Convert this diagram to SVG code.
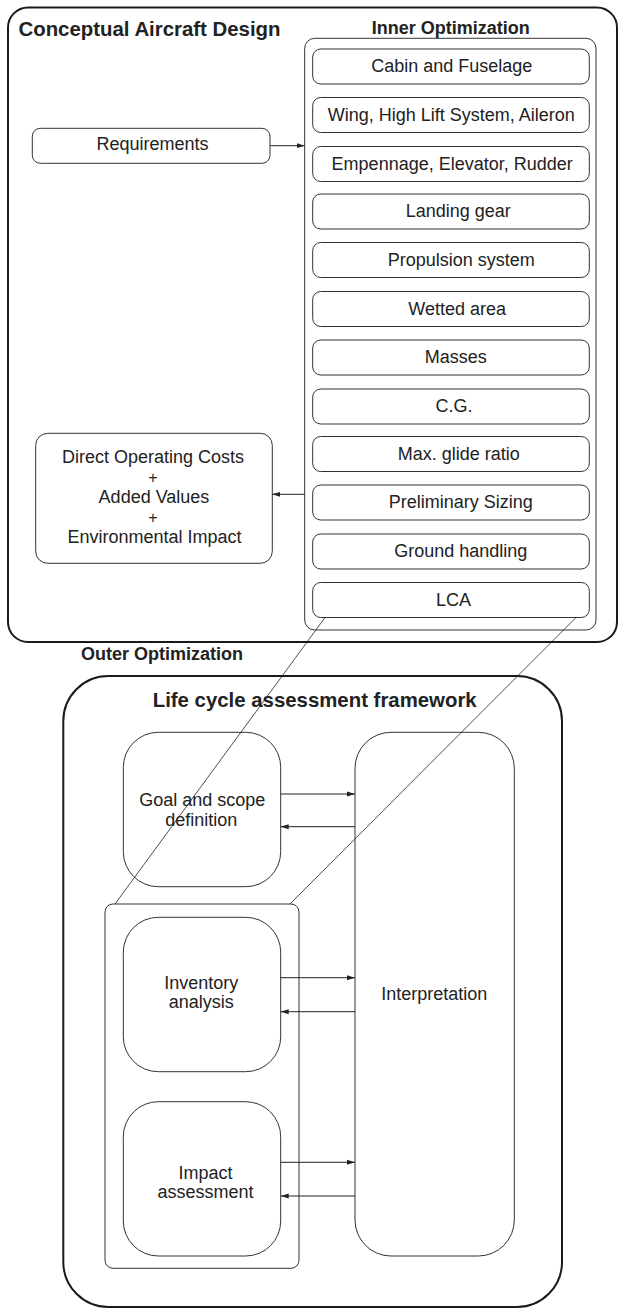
<svg xmlns="http://www.w3.org/2000/svg" width="619" height="1309" viewBox="0 0 619 1309">
<style>
.bg{fill:#fff}
.outer{fill:none;stroke:#1a1a1a;stroke-width:2}
.box{fill:#fff;stroke:#333;stroke-width:1}
.t{font-family:"Liberation Sans",Arial,sans-serif;font-size:18px;fill:#222;text-anchor:middle}
.p{font-size:16px}
.h{font-family:"Liberation Sans",Arial,sans-serif;font-size:18px;font-weight:bold;fill:#222}
.big{font-size:20.4px}
.c{fill:none;stroke:#222;stroke-width:1}
.thin{fill:none;stroke:#222;stroke-width:0.8}
</style>
<defs>
<marker id="ah" markerWidth="8" markerHeight="6" refX="8" refY="3" orient="auto" markerUnits="userSpaceOnUse">
<path d="M0,0.5 L8,3 L0,5.5 Z" fill="#222"/>
</marker>
</defs>
<rect class="bg" x="0" y="0" width="619" height="1309"/>

<g id="conceptual-aircraft-design">
<rect class="outer" x="8" y="7.5" width="609" height="634.5" rx="20"/>
<text class="h big" x="18.5" y="36" textLength="262" lengthAdjust="spacingAndGlyphs">Conceptual Aircraft Design</text>
</g>

<g id="inner-optimization">
<rect class="box" x="304.7" y="38.3" width="291.3" height="591.7" rx="10"/>
<text class="h" x="450.8" y="34.3" text-anchor="middle">Inner Optimization</text>
</g>

<g id="requirements">
<rect class="box" x="32.3" y="128.3" width="237.7" height="35" rx="8"/>
<text class="t" x="152.5" y="150">Requirements</text>
</g>

<g id="doc">
<rect class="box" x="35.7" y="433.3" width="236.6" height="130" rx="12"/>
<text class="t" x="153" y="463.3">Direct Operating Costs</text>
<text class="t p" x="153" y="482.5">+</text>
<text class="t" x="154" y="502.7">Added Values</text>
<text class="t p" x="153" y="522.8">+</text>
<text class="t" x="154.5" y="543.3">Environmental Impact</text>
</g>

<g id="cabin"><rect class="box" x="312.7" y="49" width="276.6" height="35" rx="8"/><text class="t" x="451.8" y="72">Cabin and Fuselage</text></g>
<g id="wing"><rect class="box" x="312.7" y="97.5" width="276.6" height="35" rx="8"/><text class="t" x="451.3" y="120.5">Wing, High Lift System, Aileron</text></g>
<g id="empennage"><rect class="box" x="312.7" y="146.5" width="276.6" height="35" rx="8"/><text class="t" x="452.2" y="169.5">Empennage, Elevator, Rudder</text></g>
<g id="landing-gear"><rect class="box" x="312.7" y="194" width="276.6" height="35" rx="8"/><text class="t" x="458.3" y="216.5">Landing gear</text></g>
<g id="propulsion"><rect class="box" x="312.7" y="242.5" width="276.6" height="35" rx="8"/><text class="t" x="461.3" y="265.5">Propulsion system</text></g>
<g id="wetted"><rect class="box" x="312.7" y="291.5" width="276.6" height="35" rx="8"/><text class="t" x="457.2" y="314.5">Wetted area</text></g>
<g id="masses"><rect class="box" x="312.7" y="340" width="276.6" height="35" rx="8"/><text class="t" x="455.8" y="363">Masses</text></g>
<g id="cg"><rect class="box" x="312.7" y="389" width="276.6" height="35" rx="8"/><text class="t" x="454" y="412">C.G.</text></g>
<g id="glide"><rect class="box" x="312.7" y="436.5" width="276.6" height="35" rx="8"/><text class="t" x="458.7" y="459.5">Max. glide ratio</text></g>
<g id="prelim"><rect class="box" x="312.7" y="485" width="276.6" height="35" rx="8"/><text class="t" x="460.8" y="508">Preliminary Sizing</text></g>
<g id="ground"><rect class="box" x="312.7" y="534" width="276.6" height="35" rx="8"/><text class="t" x="460.7" y="557">Ground handling</text></g>
<g id="lca"><rect class="box" x="312.7" y="582.5" width="276.6" height="35" rx="8"/><text class="t" x="453.5" y="606">LCA</text></g>

<g id="outer-optimization">
<text class="h" x="81" y="659.5">Outer Optimization</text>
</g>

<g id="lca-framework">
<rect class="outer" x="63.3" y="676" width="498.7" height="631" rx="45"/>
<text class="h big" x="314.7" y="706.7" text-anchor="middle" textLength="324" lengthAdjust="spacingAndGlyphs">Life cycle assessment framework</text>
</g>

<g id="goal">
<rect class="box" x="123.3" y="732.3" width="157.4" height="154.4" rx="35"/>
<text class="t" x="202.3" y="806">Goal and scope</text>
<text class="t" x="201.3" y="825.7">definition</text>
</g>

<g id="interpretation">
<rect class="box" x="355" y="732.3" width="159.3" height="523.7" rx="36"/>
<text class="t" x="434.2" y="1000">Interpretation</text>
</g>

<g id="inventory-impact-group">
<rect class="box" x="105" y="904" width="194" height="364.3" rx="8" fill="none"/>
</g>

<g id="inventory">
<rect class="box" x="123.3" y="917.3" width="157.4" height="154.4" rx="35"/>
<text class="t" x="201.2" y="989.3">Inventory</text>
<text class="t" x="201.2" y="1007.7">analysis</text>
</g>

<g id="impact">
<rect class="box" x="123.3" y="1101.7" width="157.4" height="154.3" rx="35"/>
<text class="t" x="205.5" y="1179.3">Impact</text>
<text class="t" x="205.5" y="1197.7">assessment</text>
</g>

<g id="connectors">
<line class="c" x1="270" y1="145.7" x2="304.7" y2="145.7" marker-end="url(#ah)"/>
<line class="c" x1="304.7" y1="494.3" x2="272.3" y2="494.3" marker-end="url(#ah)"/>
<line class="c" x1="280.7" y1="794" x2="355" y2="794" marker-end="url(#ah)"/>
<line class="c" x1="355" y1="826.7" x2="280.7" y2="826.7" marker-end="url(#ah)"/>
<line class="c" x1="280.7" y1="977.7" x2="355" y2="977.7" marker-end="url(#ah)"/>
<line class="c" x1="355" y1="1011.7" x2="280.7" y2="1011.7" marker-end="url(#ah)"/>
<line class="c" x1="280.7" y1="1162.3" x2="355" y2="1162.3" marker-end="url(#ah)"/>
<line class="c" x1="355" y1="1196" x2="280.7" y2="1196" marker-end="url(#ah)"/>
<line class="thin" x1="325" y1="617.5" x2="115" y2="904"/>
<line class="thin" x1="576" y1="617.5" x2="290" y2="904"/>
</g>
</svg>
